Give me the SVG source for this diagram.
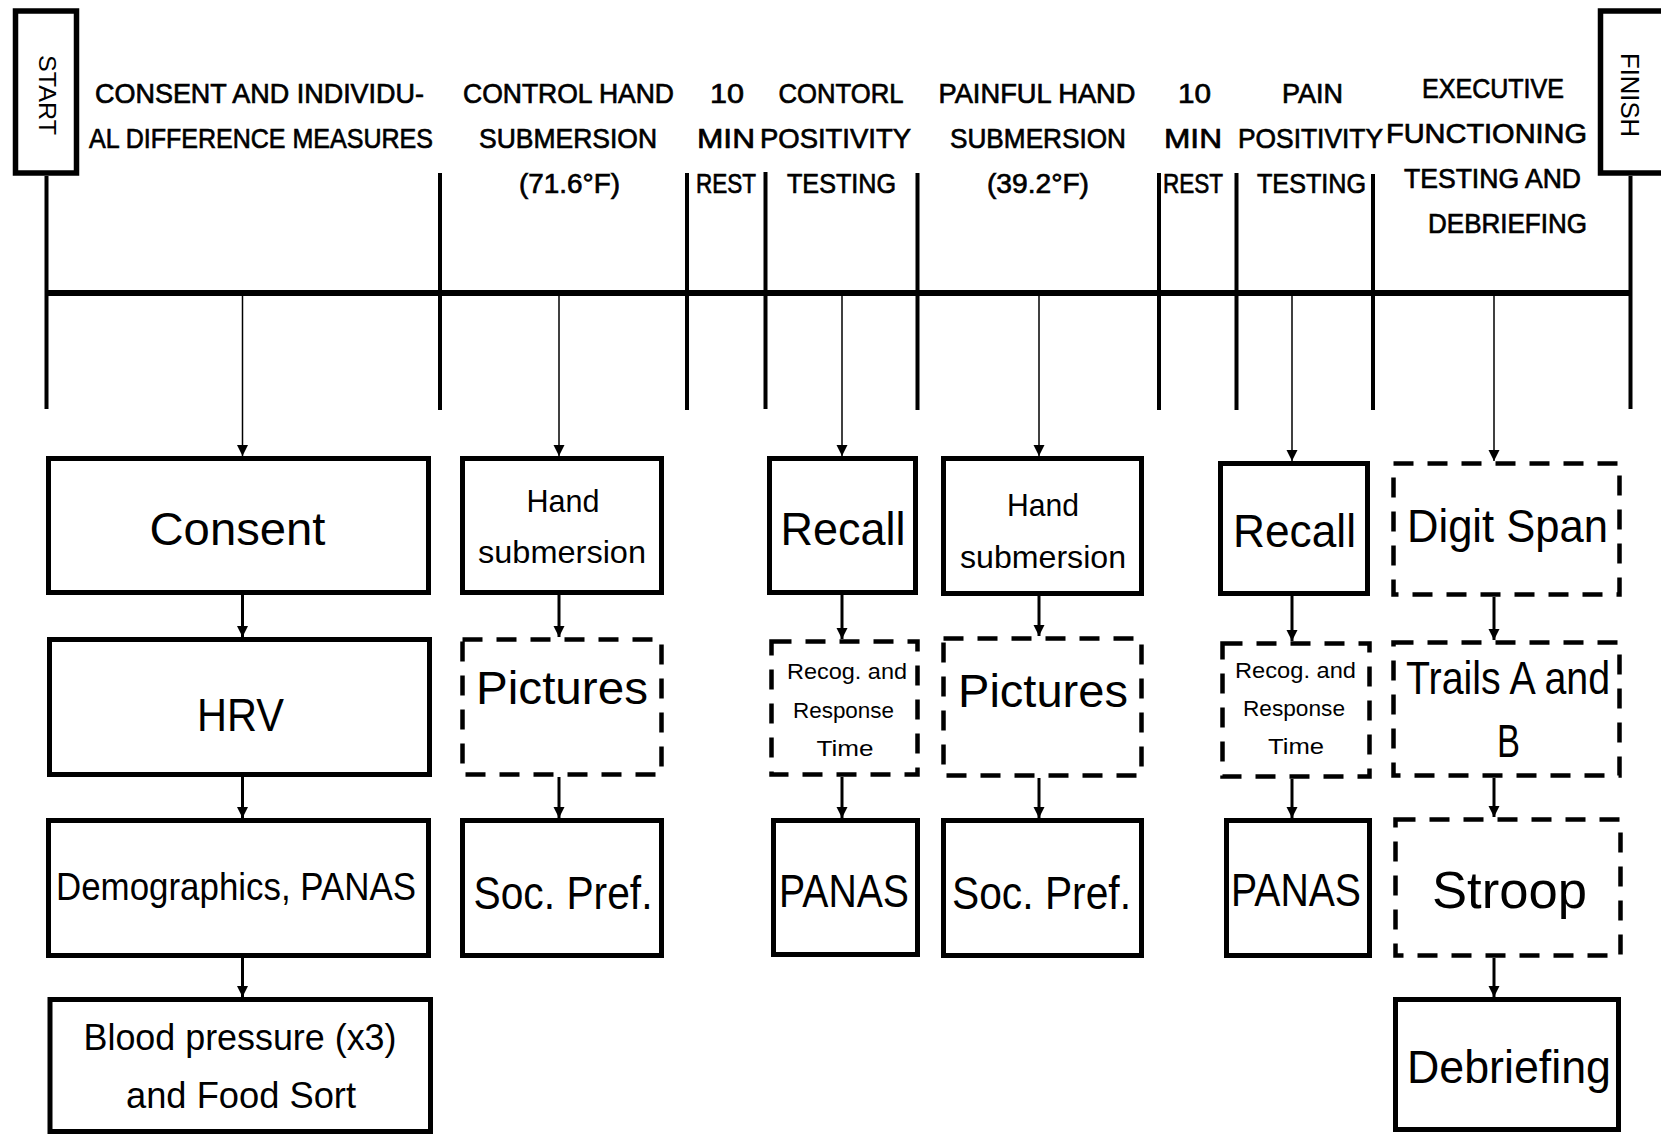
<svg xmlns="http://www.w3.org/2000/svg" width="1661" height="1136" viewBox="0 0 1661 1136">
<style>
text{font-family:"Liberation Sans",Arial,sans-serif;fill:#000;text-anchor:middle}
.h{font-size:28px;stroke:#000;stroke-width:0.7}
.big{font-size:47px}
.mid{font-size:32px}
.sm{font-size:22px}
.box{fill:#fff;stroke:#000;stroke-width:5}
.dash{fill:#fff;stroke:#000;stroke-width:4.5;stroke-dasharray:20 14}
.se{fill:#fff;stroke:#000;stroke-width:5.5}
.tl{stroke:#000;stroke-width:6;fill:none}
.dv{stroke:#000;stroke-width:4;fill:none}
.ta{stroke:#000;stroke-width:1.5;fill:none;marker-end:url(#ah)}
.ba{stroke:#000;stroke-width:3;fill:none;marker-end:url(#ah)}
</style>
<defs>
<marker id="ah" markerUnits="userSpaceOnUse" markerWidth="12" markerHeight="12" refX="11" refY="6" orient="auto">
<path d="M0,0.5 L11,6 L0,11.5 z" fill="#000"/>
</marker>
</defs>
<rect width="1661" height="1136" fill="#fff"/>

<g id="timeline">
<line class="tl" x1="46.5" y1="293" x2="1631" y2="293"/>
<line class="dv" x1="46.5" y1="176" x2="46.5" y2="409"/>
<line class="dv" x1="1630.5" y1="176" x2="1630.5" y2="409"/>
<line class="dv" x1="440" y1="173" x2="440" y2="410"/>
<line class="dv" x1="687" y1="173" x2="687" y2="410"/>
<line class="dv" x1="765.5" y1="172" x2="765.5" y2="409"/>
<line class="dv" x1="917.5" y1="173" x2="917.5" y2="410"/>
<line class="dv" x1="1159" y1="173" x2="1159" y2="410"/>
<line class="dv" x1="1236.5" y1="173" x2="1236.5" y2="410"/>
<line class="dv" x1="1373" y1="174" x2="1373" y2="410"/>
</g>

<g id="start">
<rect class="se" x="15.5" y="11" width="61" height="162"/>
<text transform="translate(38.5,95) rotate(90)" style="font-size:24px" textLength="80" lengthAdjust="spacingAndGlyphs">START</text>
</g>
<g id="finish">
<rect class="se" x="1600.5" y="11" width="64" height="162"/>
<text transform="translate(1620.5,95) rotate(90)" style="font-size:25px" textLength="84" lengthAdjust="spacingAndGlyphs">FINISH</text>
</g>

<g id="headings">
<text class="h" x="259.5" y="103" textLength="329" lengthAdjust="spacingAndGlyphs">CONSENT AND INDIVIDU-</text>
<text class="h" x="261" y="148" textLength="344" lengthAdjust="spacingAndGlyphs">AL DIFFERENCE MEASURES</text>
<text class="h" x="568.5" y="103" textLength="211" lengthAdjust="spacingAndGlyphs">CONTROL HAND</text>
<text class="h" x="568" y="148" textLength="178" lengthAdjust="spacingAndGlyphs">SUBMERSION</text>
<text class="h" x="569.5" y="193" textLength="101" lengthAdjust="spacingAndGlyphs">(71.6°F)</text>
<text class="h" x="727" y="103" textLength="34" lengthAdjust="spacingAndGlyphs">10</text>
<text class="h" x="726" y="148" textLength="58" lengthAdjust="spacingAndGlyphs">MIN</text>
<text class="h" x="726" y="193" textLength="60" lengthAdjust="spacingAndGlyphs">REST</text>
<text class="h" x="841" y="103" textLength="125" lengthAdjust="spacingAndGlyphs">CONTORL</text>
<text class="h" x="835.5" y="148" textLength="151" lengthAdjust="spacingAndGlyphs">POSITIVITY</text>
<text class="h" x="841.5" y="193" textLength="109" lengthAdjust="spacingAndGlyphs">TESTING</text>
<text class="h" x="1037" y="103" textLength="197" lengthAdjust="spacingAndGlyphs">PAINFUL HAND</text>
<text class="h" x="1038" y="148" textLength="176" lengthAdjust="spacingAndGlyphs">SUBMERSION</text>
<text class="h" x="1038" y="193" textLength="102" lengthAdjust="spacingAndGlyphs">(39.2°F)</text>
<text class="h" x="1194.5" y="103" textLength="33" lengthAdjust="spacingAndGlyphs">10</text>
<text class="h" x="1193" y="148" textLength="58" lengthAdjust="spacingAndGlyphs">MIN</text>
<text class="h" x="1193" y="193" textLength="60" lengthAdjust="spacingAndGlyphs">REST</text>
<text class="h" x="1312.5" y="103" textLength="61" lengthAdjust="spacingAndGlyphs">PAIN</text>
<text class="h" x="1310.5" y="148" textLength="145" lengthAdjust="spacingAndGlyphs">POSITIVITY</text>
<text class="h" x="1311.5" y="193" textLength="109" lengthAdjust="spacingAndGlyphs">TESTING</text>
<text class="h" x="1493" y="98" textLength="142" lengthAdjust="spacingAndGlyphs">EXECUTIVE</text>
<text class="h" x="1486.5" y="143" textLength="201" lengthAdjust="spacingAndGlyphs">FUNCTIONING</text>
<text class="h" x="1492.5" y="188" textLength="177" lengthAdjust="spacingAndGlyphs">TESTING AND</text>
<text class="h" x="1507.5" y="233" textLength="159" lengthAdjust="spacingAndGlyphs">DEBRIEFING</text>
</g>

<g id="connectors">
<line class="ta" x1="242.5" y1="296" x2="242.5" y2="456"/>
<line class="ta" x1="559" y1="296" x2="559" y2="456"/>
<line class="ta" x1="842" y1="296" x2="842" y2="456"/>
<line class="ta" x1="1039" y1="296" x2="1039" y2="456"/>
<line class="ta" x1="1292" y1="296" x2="1292" y2="461"/>
<line class="ta" x1="1494" y1="296" x2="1494" y2="461"/>
<line class="ba" x1="242.5" y1="595" x2="242.5" y2="637"/>
<line class="ba" x1="242.5" y1="777" x2="242.5" y2="818"/>
<line class="ba" x1="242.5" y1="958" x2="242.5" y2="997"/>
<line class="ba" x1="559" y1="595" x2="559" y2="637"/>
<line class="ba" x1="559" y1="777" x2="559" y2="818"/>
<line class="ba" x1="842" y1="595" x2="842" y2="639"/>
<line class="ba" x1="842" y1="777" x2="842" y2="818"/>
<line class="ba" x1="1039" y1="596" x2="1039" y2="636"/>
<line class="ba" x1="1039" y1="778" x2="1039" y2="818"/>
<line class="ba" x1="1292" y1="596" x2="1292" y2="641"/>
<line class="ba" x1="1292" y1="779" x2="1292" y2="818"/>
<line class="ba" x1="1494" y1="597" x2="1494" y2="640"/>
<line class="ba" x1="1494" y1="778" x2="1494" y2="817"/>
<line class="ba" x1="1494" y1="958" x2="1494" y2="997"/>
</g>

<g id="consent">
<rect class="box" x="48.5" y="458.5" width="380" height="134"/>
<text class="big" x="237.5" y="545" textLength="176" lengthAdjust="spacingAndGlyphs">Consent</text>
</g>
<g id="hrv">
<rect class="box" x="49.5" y="639.5" width="380" height="135"/>
<text class="big" x="240.5" y="731" textLength="87" lengthAdjust="spacingAndGlyphs">HRV</text>
</g>
<g id="demographics">
<rect class="box" x="48.5" y="820.5" width="380" height="135"/>
<text x="236" y="900" style="font-size:39px" textLength="360" lengthAdjust="spacingAndGlyphs">Demographics, PANAS</text>
</g>
<g id="blood-pressure">
<rect class="box" x="50" y="999.5" width="380.5" height="132"/>
<text x="240" y="1050" style="font-size:37px" textLength="313" lengthAdjust="spacingAndGlyphs">Blood pressure (x3)</text>
<text x="241" y="1108" style="font-size:37px" textLength="230" lengthAdjust="spacingAndGlyphs">and Food Sort</text>
</g>

<g id="hand-control">
<rect class="box" x="462.5" y="458.5" width="199" height="134"/>
<text class="mid" x="563" y="512" textLength="73" lengthAdjust="spacingAndGlyphs">Hand</text>
<text class="mid" x="562" y="563" textLength="168" lengthAdjust="spacingAndGlyphs">submersion</text>
</g>
<g id="pictures-control">
<rect class="dash" x="462.5" y="639.5" width="199" height="135"/>
<text class="big" x="562" y="704" textLength="172" lengthAdjust="spacingAndGlyphs">Pictures</text>
</g>
<g id="socpref-control">
<rect class="box" x="462.5" y="820.5" width="199" height="135"/>
<text class="big" x="563" y="909" textLength="179" lengthAdjust="spacingAndGlyphs">Soc. Pref.</text>
</g>

<g id="recall-control">
<rect class="box" x="769.5" y="458.5" width="146" height="134"/>
<text class="big" x="843" y="545" textLength="125" lengthAdjust="spacingAndGlyphs">Recall</text>
</g>
<g id="recog-control">
<rect class="dash" x="771.5" y="641.5" width="146" height="133"/>
<text class="sm" x="847" y="679" textLength="120" lengthAdjust="spacingAndGlyphs">Recog. and</text>
<text class="sm" x="843.5" y="718" textLength="101" lengthAdjust="spacingAndGlyphs">Response</text>
<text class="sm" x="845" y="756" textLength="57" lengthAdjust="spacingAndGlyphs">Time</text>
</g>
<g id="panas-control">
<rect class="box" x="773.5" y="820.5" width="144" height="134"/>
<text class="big" x="844" y="907" textLength="130" lengthAdjust="spacingAndGlyphs">PANAS</text>
</g>

<g id="hand-painful">
<rect class="box" x="943.5" y="458.5" width="198" height="135"/>
<text class="mid" x="1043" y="516" textLength="72" lengthAdjust="spacingAndGlyphs">Hand</text>
<text class="mid" x="1043" y="568" textLength="166" lengthAdjust="spacingAndGlyphs">submersion</text>
</g>
<g id="pictures-painful">
<rect class="dash" x="943.5" y="638.5" width="198" height="137"/>
<text class="big" x="1043" y="707" textLength="170" lengthAdjust="spacingAndGlyphs">Pictures</text>
</g>
<g id="socpref-painful">
<rect class="box" x="943.5" y="820.5" width="198" height="135"/>
<text class="big" x="1041.5" y="909" textLength="179" lengthAdjust="spacingAndGlyphs">Soc. Pref.</text>
</g>

<g id="recall-pain">
<rect class="box" x="1220.5" y="463.5" width="147" height="130"/>
<text class="big" x="1294.5" y="547" textLength="123" lengthAdjust="spacingAndGlyphs">Recall</text>
</g>
<g id="recog-pain">
<rect class="dash" x="1222.5" y="643.5" width="147" height="133"/>
<text class="sm" x="1295.5" y="678" textLength="121" lengthAdjust="spacingAndGlyphs">Recog. and</text>
<text class="sm" x="1294" y="716" textLength="102" lengthAdjust="spacingAndGlyphs">Response</text>
<text class="sm" x="1296" y="754" textLength="56" lengthAdjust="spacingAndGlyphs">Time</text>
</g>
<g id="panas-pain">
<rect class="box" x="1226.5" y="820.5" width="143" height="135"/>
<text class="big" x="1296" y="906" textLength="130" lengthAdjust="spacingAndGlyphs">PANAS</text>
</g>

<g id="digit-span">
<rect class="dash" x="1393.5" y="463.5" width="226" height="131"/>
<text class="big" x="1507.5" y="542" textLength="201" lengthAdjust="spacingAndGlyphs">Digit Span</text>
</g>
<g id="trails">
<rect class="dash" x="1393.5" y="642.5" width="226" height="133"/>
<text class="big" x="1508" y="694" textLength="204" lengthAdjust="spacingAndGlyphs">Trails A and</text>
<text class="big" x="1508.5" y="757" textLength="23" lengthAdjust="spacingAndGlyphs">B</text>
</g>
<g id="stroop">
<rect class="dash" x="1395.5" y="819.5" width="225" height="136"/>
<text x="1509.5" y="908" style="font-size:52px" textLength="155" lengthAdjust="spacingAndGlyphs">Stroop</text>
</g>
<g id="debriefing">
<rect class="box" x="1395.5" y="999.5" width="223" height="130"/>
<text class="big" x="1509" y="1083" textLength="204" lengthAdjust="spacingAndGlyphs">Debriefing</text>
</g>
</svg>
